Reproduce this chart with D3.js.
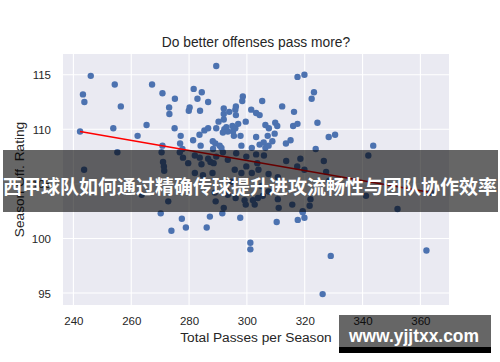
<!DOCTYPE html>
<html><head><meta charset="utf-8">
<script src="https://cdn.jsdelivr.net/npm/d3@7"></script>
<style>html,body{margin:0;padding:0;background:#fff;}svg{display:block;}</style>
</head><body>
<svg id="c" width="500" height="362"></svg>
<script>
const passes = [
246.0,254.3,243.3,243.8,256.4,242.3,253.8,262.2,265.3,267.2,
270.8,273.1,273.2,270.8,275.1,275.0,277.1,276.9,277.7,289.4,
281.6,284.4,282.9,286.6,280.2,279.9,283.8,281.4,283.6,285.3,
286.6,284.0,288.2,289.1,290.6,288.3,290.2,289.4,292.0,293.9,
292.0,296.2,296.0,296.2,298.6,298.4,292.0,292.9,292.2,293.4,
291.7,295.0,296.0,295.5,295.2,299.6,297.8,298.1,297.0,291.2,
301.5,303.2,304.4,305.3,312.2,316.3,306.4,307.6,309.8,310.5,
309.6,307.2,303.2,308.8,304.4,305.8,301.7,306.4,307.5,313.5,
315.1,317.5,319.9,323.2,322.4,316.0,317.5,324.4,328.3,330.5,
343.7,323.8,
255.2,243.7,270.5,271.0,271.3,271.4,276.8,277.9,279.7,282.0,
283.7,284.3,286.6,287.4,288.5,289.4,282.0,284.8,288.1,291.7,
293.4,296.3,295.8,298.1,299.8,263.6,272.8,288.9,292.9,292.0,
296.1,299.2,299.6,299.8,303.2,305.9,303.6,304.0,313.6,318.5,
317.4,326.6,327.4,342.0,319.9,301.7,307.5,310.7,302.1,303.8,
305.5,302.7,307.5,310.7,311.0,315.7,322.0,321.7,319.3,341.2,
352.1,363.6,289.2,293.4,294.7,305.1,328.5,
270.2,273.9,277.5,278.9,286.1,287.2,291.5,297.7,301.2,301.2,
310.3,317.6,319.9,319.3,329.0,326.2,362.1
];
const rating = [
114.9,114.1,113.2,112.5,112.1,109.8,110.1,109.4,110.4,114.1,
113.3,112.0,111.4,108.5,112.8,110.1,109.4,108.7,108.2,115.8,
113.7,113.4,112.8,112.5,112.0,111.7,111.7,109.0,109.5,109.9,
110.1,108.5,108.9,108.7,108.5,108.2,110.7,110.1,111.9,111.6,
111.4,112.1,111.8,111.3,113.0,112.6,110.9,110.2,110.0,109.8,
109.7,110.3,110.1,109.4,109.8,110.7,109.4,108.5,110.5,108.3,
111.8,111.5,111.3,112.6,112.1,111.6,110.4,110.1,110.6,110.3,
109.6,109.4,109.3,108.9,108.6,108.8,108.3,108.3,108.5,108.7,
109.0,114.8,115.0,113.4,112.8,110.3,110.5,110.6,109.3,109.5,
108.5,108.2,
107.9,106.3,107.9,107.0,106.6,106.2,107.9,107.4,106.9,107.6,
107.4,106.8,107.3,107.0,106.9,107.5,106.0,105.8,106.0,107.9,
107.2,107.8,106.3,106.0,106.6,104.0,103.4,104.2,104.4,102.8,
103.7,103.5,103.1,107.5,107.7,107.6,106.9,106.3,107.1,107.3,
106.6,107.1,106.1,107.6,106.3,106.0,105.9,105.6,103.5,103.7,
103.9,103.1,104.3,103.6,102.8,103.1,103.6,103.0,102.5,103.9,
102.7,104.2,103.4,104.0,105.2,104.8,105.3,
102.3,100.7,101.8,101.0,101.0,102.0,102.3,101.9,99.6,99.0,
101.5,101.7,101.9,102.4,98.4,94.9,98.9
];
const fitPasses = [242.3, 363.6];
const fitRating = [109.8, 104.2];
const xTicks = [240, 260, 280, 300, 320, 340, 360];
const yTicks = [95, 100, 105, 110, 115];
const titleText = "Do better offenses pass more?";
const xLabel = "Total Passes per Season";
const yLabel = "Season Off. Rating";
const bannerText = "西甲球队如何通过精确传球提升进攻流畅性与团队协作效率";
const watermarkText = "www.yjjtxx.com";

const FONT = "'Liberation Sans', Arial, 'DejaVu Sans', sans-serif";
const TXT = "#262626";
const svg = d3.select("#c");
const x = d3.scaleLinear().domain([236.4, 369.9]).range([63, 449]);
const y = d3.scaleLinear().domain([93.9, 116.9]).range([305, 54]);
const [x0, x1] = x.range();
const [y0, y1] = y.range();

svg.append("rect").attr("width", 500).attr("height", 362).attr("fill", "#fff");
svg.append("rect").attr("x", x0).attr("y", y1).attr("width", x1 - x0).attr("height", y0 - y1).attr("fill", "#EAEAF2");

const grid = svg.append("g").attr("stroke", "#fff").attr("stroke-width", 1.1);
grid.selectAll(".gx").data(xTicks).join("line")
  .attr("x1", d => x(d)).attr("x2", d => x(d)).attr("y1", y1).attr("y2", y0);
grid.selectAll(".gy").data(yTicks).join("line")
  .attr("y1", d => y(d)).attr("y2", d => y(d)).attr("x1", x0).attr("x2", x1);

const gx = svg.append("g").attr("transform", `translate(0,${y0})`)
  .call(d3.axisBottom(x).tickValues(xTicks).tickSize(0).tickFormat(d3.format("d")));
gx.select(".domain").remove();
gx.selectAll("text").attr("y", 20).attr("dy", 0).attr("fill", TXT)
  .style("font-family", FONT).style("font-size", "11.5px");

const gy = svg.append("g").attr("transform", `translate(${x0},0)`)
  .call(d3.axisLeft(y).tickValues(yTicks).tickSize(0).tickFormat(d3.format("d")));
gy.select(".domain").remove();
gy.selectAll("text").attr("x", -12).attr("dy", "0.35em").attr("fill", TXT)
  .style("font-family", FONT).style("font-size", "11.5px");

svg.append("g").selectAll("circle").data(passes.map((p, i) => [p, rating[i]])).join("circle")
  .attr("cx", d => x(d[0])).attr("cy", d => y(d[1])).attr("r", 3.2).attr("fill", "#4C72B0");

svg.append("path").datum(fitPasses.map((p, i) => [p, fitRating[i]]))
  .attr("d", d3.line().x(d => x(d[0])).y(d => y(d[1])))
  .attr("fill", "none").attr("stroke", "#ff0000").attr("stroke-width", 1.5);

svg.append("text").attr("x", (x0 + x1) / 2).attr("y", 46.6).attr("text-anchor", "middle")
  .attr("fill", TXT).style("font-family", FONT).style("font-size", "13.8px").text(titleText);
svg.append("text").attr("x", (x0 + x1) / 2).attr("y", 342.2).attr("text-anchor", "middle")
  .attr("fill", TXT).style("font-family", FONT).style("font-size", "13.7px").text(xLabel);
svg.append("text").attr("transform", `translate(24,${(y0 + y1) / 2}) rotate(-90)`).attr("text-anchor", "middle")
  .attr("fill", TXT).style("font-family", FONT).style("font-size", "13.7px").text(yLabel);

// banner overlay
svg.append("rect").attr("x", 3).attr("y", 150).attr("width", 495).attr("height", 62)
  .attr("fill", "#000").attr("fill-opacity", 0.6);
svg.append("text").attr("x", 250).attr("y", 185.5).attr("text-anchor", "middle")
  .attr("dominant-baseline", "central").attr("fill", "#fff")
  .style("font-family", "'Noto Sans CJK SC', sans-serif").style("font-weight", "bold")
  .style("font-size", "19px").text(bannerText);

// watermark
svg.append("rect").attr("x", 339).attr("y", 315).attr("width", 152).attr("height", 32)
  .attr("fill", "#000").attr("fill-opacity", 0.6);
svg.append("rect").attr("x", 339).attr("y", 347).attr("width", 152).attr("height", 6).attr("fill", "#000");
svg.append("text").attr("x", 349).attr("y", 341.7).attr("textLength", 130).attr("lengthAdjust", "spacingAndGlyphs")
  .attr("fill", "#fff").style("font-family", FONT).style("font-weight", "bold")
  .style("font-size", "18px").text(watermarkText);
</script>
</body></html>
